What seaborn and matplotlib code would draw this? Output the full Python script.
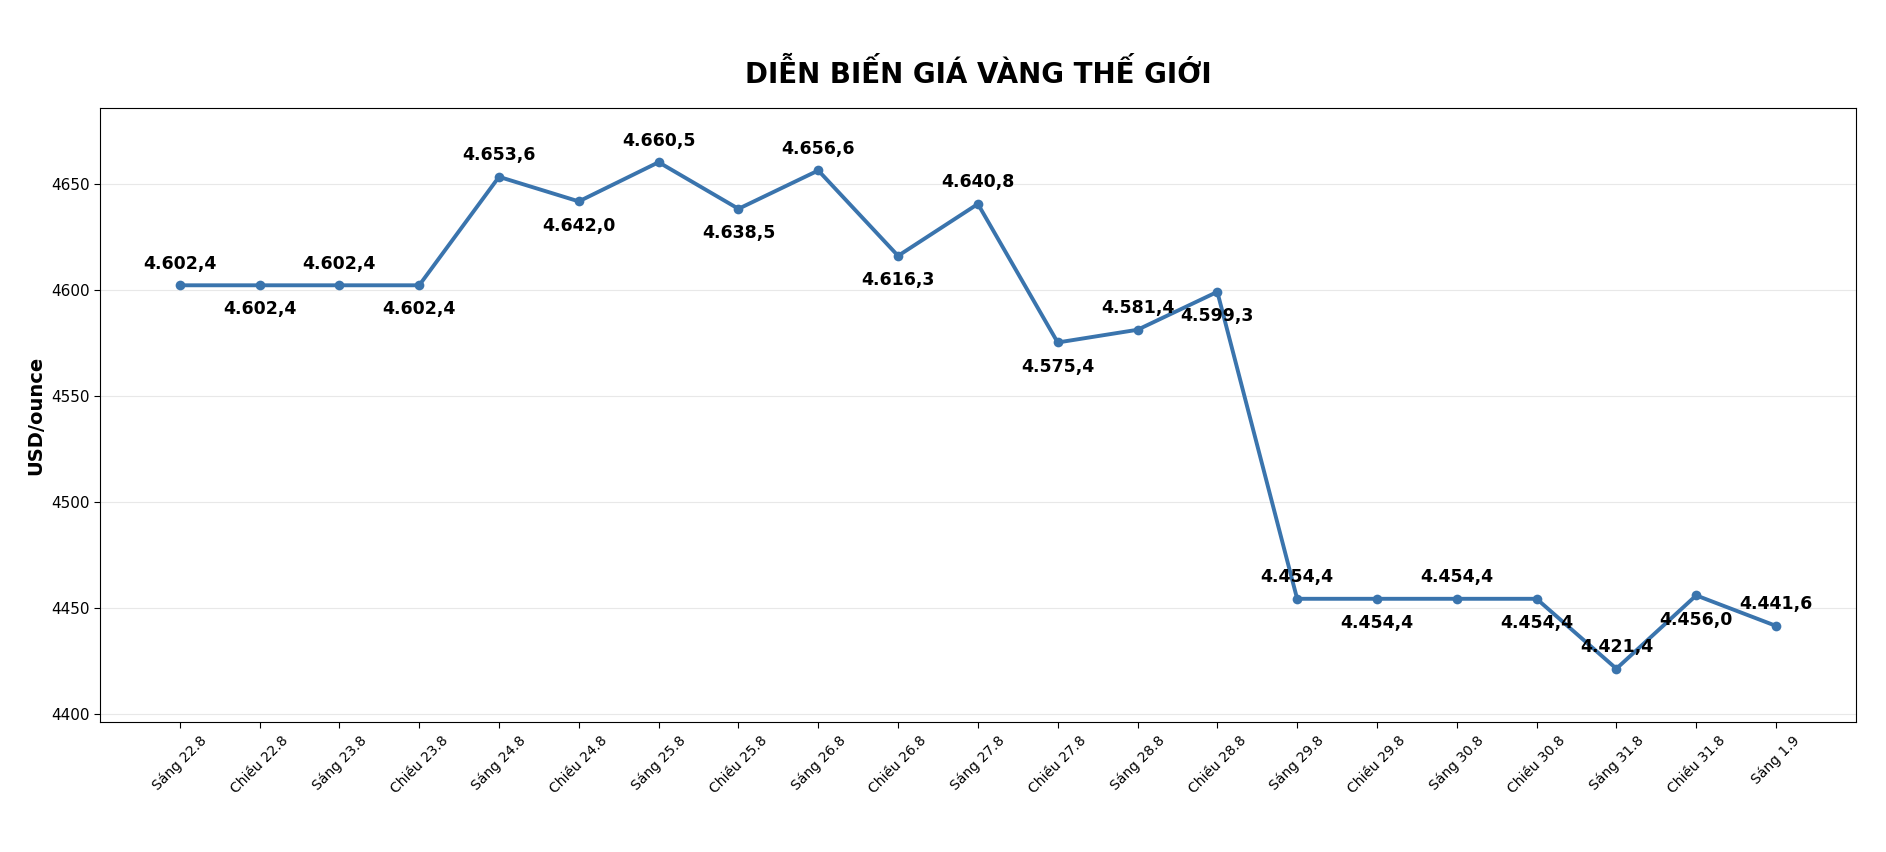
import numpy as np
import pandas as pd
import matplotlib
matplotlib.use("Agg")
import matplotlib.pyplot as plt
import seaborn as sns

sessions = ["Sáng 22.8", "Chiều 22.8", "Sáng 23.8", "Chiều 23.8", "Sáng 24.8", "Chiều 24.8",
            "Sáng 25.8", "Chiều 25.8", "Sáng 26.8", "Chiều 26.8", "Sáng 27.8", "Chiều 27.8",
            "Sáng 28.8", "Chiều 28.8", "Sáng 29.8", "Chiều 29.8", "Sáng 30.8", "Chiều 30.8",
            "Sáng 31.8", "Chiều 31.8", "Sáng 1.9"]
prices = [4602.4, 4602.4, 4602.4, 4602.4, 4653.6, 4642.0, 4660.5, 4638.5, 4656.6, 4616.3,
          4640.8, 4575.4, 4581.4, 4599.3, 4454.4, 4454.4, 4454.4, 4454.4, 4421.4, 4456.0, 4441.6]

sns.set_style("white")
plt.rcParams['font.family'] = ['DejaVu Sans']
plt.rcParams['text.color'] = 'black'
plt.rcParams['axes.labelcolor'] = 'black'
plt.rcParams['xtick.color'] = 'black'
plt.rcParams['ytick.color'] = 'black'

df = pd.DataFrame({"x": np.arange(len(sessions)), "price": prices})

fig = plt.figure(figsize=(18.86, 8.52), dpi=100)
ax = fig.add_axes([0.053, 0.152, 0.931, 0.721])
sns.lineplot(data=df, x="x", y="price", ax=ax, color="#3a74ad", linewidth=2.8,
             marker="o", markersize=7, markeredgewidth=0)

def fmt(v):
    s = "{0:,.1f}".format(v)
    return s.replace(",", "X").replace(".", ",").replace("X", ".")

for i, v in enumerate(prices):
    off = 12 if i % 2 == 0 else -21
    ax.annotate(fmt(v), (i, v), xytext=(0, off), textcoords="offset points",
                ha="center", fontsize=12.5, fontweight="bold", color="black")

ax.set_xticks(df["x"])
ax.set_xticklabels(sessions, rotation=45, fontsize=10)
ax.set_xlim(-1, len(sessions))
ax.set_ylim(4396, 4686)
ax.set_yticks([4400, 4450, 4500, 4550, 4600, 4650])
ax.tick_params(axis="y", labelsize=11)
ax.tick_params(axis="both", length=4, left=True, bottom=True)
ax.yaxis.grid(True, color="#e8e8e8", linewidth=0.8)
ax.set_xlabel("")
ax.set_ylabel("USD/ounce", fontsize=14, fontweight="bold")
for s in ax.spines.values():
    s.set_color("black")
    s.set_linewidth(0.8)
ax.set_title("DIỄN BIẾN GIÁ VÀNG THẾ GIỚI", fontsize=20, fontweight="bold", pad=18, color="black")

fig.savefig("out.png", dpi=100)
